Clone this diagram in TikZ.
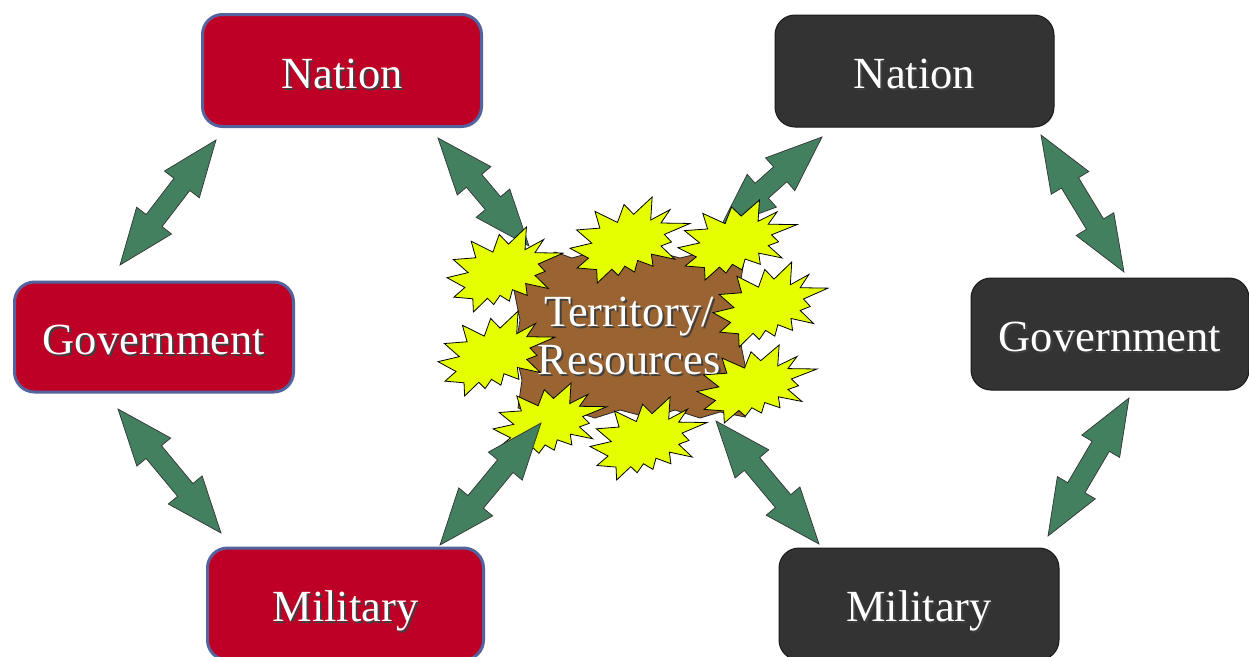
\documentclass[tikz,border=0pt]{standalone}
\usepackage{fontspec}
\setmainfont{Liberation Serif}
\usetikzlibrary{calc}

\definecolor{boxred}{RGB}{190,0,38}
\definecolor{boxedge}{RGB}{84,98,158}
\definecolor{boxdark}{RGB}{51,51,51}
\definecolor{arrowgreen}{RGB}{66,128,96}
\definecolor{burstyellow}{RGB}{230,255,0}
\definecolor{earth}{RGB}{153,100,50}

% white lettering with a soft dark drop shadow
\newcommand\shtext[1]{\makebox[0pt][l]{\hspace{2pt}\raisebox{-2pt}{\color{black!75}#1}}#1}

% two-headed block arrow between two named points
\newcommand\twoway[2]{%
  \coordinate (ha) at ($(#1)!56pt!(#2)$);
  \coordinate (hb) at ($(#2)!56pt!(#1)$);
  \draw[greenarrow] (#1) -- ($(ha)!22pt!90:(#2)$) -- ($(ha)!10pt!90:(#2)$)
    -- ($(hb)!10pt!-90:(#1)$) -- ($(hb)!22pt!-90:(#1)$) -- (#2)
    -- ($(hb)!22pt!90:(#1)$) -- ($(hb)!10pt!90:(#1)$)
    -- ($(ha)!10pt!-90:(#2)$) -- ($(ha)!22pt!-90:(#2)$) -- cycle;
}

% explosion-shaped burst: top-left x, y, width, height
\newcommand\burst[4]{%
  \draw[burststyle, shift={(#1,#2)}, xscale=#3/216, yscale=#4/216]
    (114.62,43.42) -- (147.9,0) -- (145.25,57.77) -- (180.07,31.72)
    -- (163.8,65.32) -- (216,66.45) -- (169.85,94.02) -- (182.7,112.9)
    -- (163.8,123.1) -- (188.77,156.32) -- (146.4,143.5) -- (149.42,173.7)
    -- (121.8,159.35) -- (116.12,188.42) -- (98.72,173.7) -- (87,197.12)
    -- (75.27,181.25) -- (49.17,216) -- (48.05,182.4) -- (12.85,178.25)
    -- (33.3,153.7) -- (0,128.77) -- (39.35,115.92) -- (11.72,82.7)
    -- (53.72,78.17) -- (45.02,36.25) -- (85.5,63.82) -- (97.22,18.87) -- cycle;
}

\tikzset{
  label font/.style={font=\fontsize{44.5}{48}\selectfont},
  boxtext/.style={text=white, label font, inner sep=0pt, text height=35pt, text depth=0pt},
  redbox/.style={rectangle, rounded corners=20pt, fill=boxred, draw=boxedge,
    line width=3pt, boxtext},
  darkbox/.style={rectangle, rounded corners=20pt, fill=boxdark, draw=black!90,
    line width=1pt, boxtext},
  greenarrow/.style={fill=arrowgreen, draw=black!80, line width=0.7pt, line join=miter},
  burststyle/.style={fill=burstyellow, draw=black, line width=0.8pt, line join=miter},
}

\begin{document}
\begin{tikzpicture}[x=1pt, y=-1pt]
\useasboundingbox (0,0) rectangle (1249,656);
\fill[white] (0,0) rectangle (1249,656);

% left side: red boxes
\node[redbox, minimum width=279pt, minimum height=112pt] (lnat) at (342,70.5) {\shtext{Nation}};
\node[redbox, minimum width=279pt, minimum height=110pt] (lgov) at (154,337) {\shtext{Government}};
\node[redbox, minimum width=276pt, minimum height=112pt] (lmil) at (345.5,604) {\shtext{Military}};

% right side: dark boxes
\node[darkbox, minimum width=279pt, minimum height=112pt] (rnat) at (914.5,71) {\shtext{Nation}};
\node[darkbox, minimum width=278pt, minimum height=112pt] (rgov) at (1110,334) {\shtext{Government}};
\node[darkbox, minimum width=280pt, minimum height=112pt] (rmil) at (919,604) {\shtext{Military}};

% arrow end points
\coordinate (p1a) at (216,140);  \coordinate (p1b) at (120,265);
\coordinate (p2a) at (438,138);  \coordinate (p2b) at (529,246);
\coordinate (p3a) at (118,409);  \coordinate (p3b) at (221,533);
\coordinate (p4a) at (440,545);  \coordinate (p4b) at (541,423);
\coordinate (p5a) at (822,137);  \coordinate (p5b) at (720,228);
\coordinate (p6a) at (1041,135); \coordinate (p6b) at (1124,272);
\coordinate (p7a) at (1129,398); \coordinate (p7b) at (1048,536);
\coordinate (p8a) at (819,544);  \coordinate (p8b) at (716,421);

% links between the boxes
\twoway{p1a}{p1b}
\twoway{p3a}{p3b}
\twoway{p6a}{p6b}
\twoway{p7a}{p7b}

% links from the upper boxes, passing under the bursts
\twoway{p2a}{p2b}
\twoway{p5a}{p5b}

% contested ground in the middle
\draw[fill=earth, draw=black!85, line width=0.8pt, line join=miter]
  (518,258) -- (540,262) -- (555,252) -- (572,258) -- (600,250) -- (625,258)
  -- (650,250) -- (680,258) -- (705,252) -- (725,260) -- (745,255) -- (740,285)
  -- (748,310) -- (740,340) -- (746,370) -- (738,395) -- (745,417) -- (720,412)
  -- (700,418) -- (675,410) -- (650,418) -- (620,410) -- (595,418) -- (570,410)
  -- (545,416) -- (518,408) -- (522,380) -- (515,350) -- (520,320) -- (514,290)
  -- cycle;
\node[text=white, label font, align=center, inner sep=0pt] (terr) at (629,337)
  {\shtext{Territory/}\\\shtext{Resources}};

% conflict bursts around the centre
\burst{447}{227}{116}{85}
\burst{570}{197}{120}{86}
\burst{678}{200}{119}{80}
\burst{713}{262}{115}{85}
\burst{438}{311}{117}{85}
\burst{697}{345}{120}{78}
\burst{493}{383}{114}{77}
\burst{590}{397}{117}{83}

% links from the lower boxes, lying over the bursts
\twoway{p4a}{p4b}
\twoway{p8a}{p8b}
\end{tikzpicture}
\end{document}
